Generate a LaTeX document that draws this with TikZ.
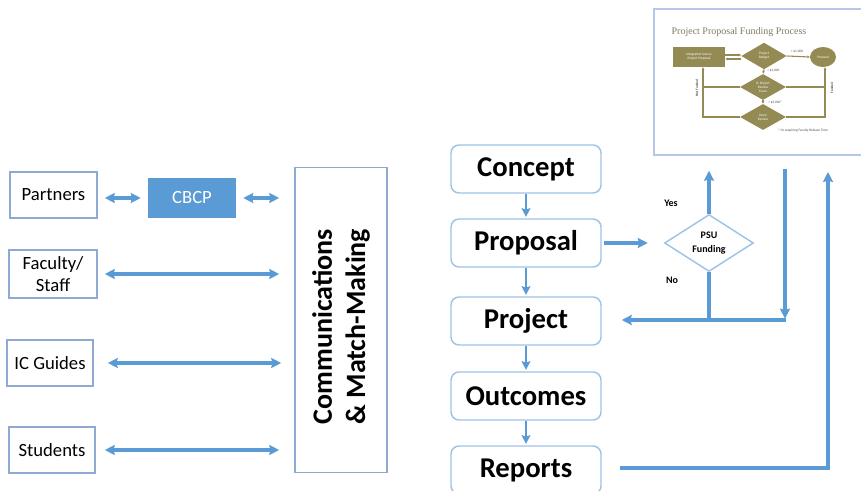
\documentclass[tikz,border=0pt]{standalone}
\usepackage{fontspec}
\setmainfont{Carlito}
\newfontfamily\titleserif{Liberation Serif}
\usetikzlibrary{arrows.meta,shapes.geometric,calc}
\definecolor{linkblue}{RGB}{91,155,213}
\definecolor{boxedge}{RGB}{143,170,210}
\definecolor{flowedge}{RGB}{157,195,230}
\definecolor{insetedge}{RGB}{180,199,231}
\definecolor{olivebox}{RGB}{148,138,84}
\definecolor{olivetitle}{RGB}{130,124,96}
\tikzset{
  party/.style={draw=boxedge, line width=1.2pt, align=center, inner sep=0pt,
    font=\fontsize{14}{16.5}\selectfont},
  flowbox/.style={draw=flowedge, line width=1.1pt, rounded corners=6pt,
    minimum width=112.5pt, minimum height=36pt, inner sep=0pt,
    font=\fontsize{21.5}{24}\selectfont\bfseries},
  link/.style={draw=linkblue, line width=2.3pt},
  both/.style={link, {Stealth[length=7.5pt,width=7.5pt,inset=1pt]}-{Stealth[length=7.5pt,width=7.5pt,inset=1pt]}},
  onto/.style={link, -{Stealth[length=7.5pt,width=7.5pt,inset=1pt]}},
  downlink/.style={draw=linkblue, line width=1.9pt, -{Stealth[length=6.5pt,width=6.5pt,inset=1pt]}},
  tag/.style={font=\fontsize{7.5}{9}\selectfont\bfseries, inner sep=0pt},
  % miniature funding chart
  minibox/.style={fill=olivebox, text=white, align=center, inner sep=0pt,
    font=\fontsize{2.6}{3}\selectfont},
  minidia/.style={minibox, diamond, aspect=1.7},
  miniline/.style={draw=olivebox, line width=0.8pt},
  miniarrow/.style={miniline, -{Stealth[length=2pt,width=2pt]}},
  mininote/.style={font=\fontsize{2.6}{3}\selectfont, inner sep=0pt, text=black!70},
}
\begin{document}
\begin{tikzpicture}[x=0.75pt,y=-0.75pt]
\useasboundingbox (0,0) rectangle (861,491);

% ---------- partners and match-making ----------
\node[party, minimum width=65.25pt, minimum height=34.5pt] (partners) at (53.5,195) {Partners};
\node[party, minimum width=66pt, minimum height=36pt] (faculty) at (53,274) {Faculty/\\Staff};
\node[party, minimum width=64.5pt, minimum height=34.5pt] (guides) at (50,363) {IC Guides};
\node[party, minimum width=64.5pt, minimum height=34.5pt] (students) at (52,450) {Students};
\node[fill=linkblue, text=white, minimum width=66pt, minimum height=30pt, inner sep=0pt,
  font=\fontsize{14}{16.5}\selectfont] (cbcp) at (192,198) {CBCP};
\node[draw=boxedge, line width=1.2pt, minimum width=69pt, minimum height=228.75pt] (comm) at (341,320) {};
\node[rotate=90, align=center, font=\fontsize{21}{25}\selectfont\bfseries] (commtext) at ([yshift=-5pt]comm.center) {Communications\\\& Match-Making};

\draw[both, shorten <=5.25pt, shorten >=5.25pt] (partners.east |- cbcp.west) -- (cbcp.west);
\draw[both, shorten <=5.25pt, shorten >=11.25pt] (cbcp.east) -- (cbcp.east -| comm.west);
\draw[both, shorten <=5.25pt, shorten >=11.25pt] (faculty.east) -- (faculty.east -| comm.west);
\draw[both, shorten <=10.5pt, shorten >=9.75pt] (guides.east) -- (guides.east -| comm.west);
\draw[both, shorten <=6.75pt, shorten >=11.25pt] (students.east) -- (students.east -| comm.west);

% ---------- project flow ----------
\node[flowbox] (concept) at (526,169) {Concept};
\node[flowbox] (proposal) at (526,243) {Proposal};
\node[flowbox] (project) at (526,321) {Project};
\node[flowbox] (outcomes) at (526,396) {Outcomes};
\node[flowbox] (reports) at (526,470) {Reports};

\draw[downlink, shorten >=1pt] (concept) -- (proposal);
\draw[downlink, shorten >=1pt] (proposal) -- (project);
\draw[downlink, shorten >=1pt] (project) -- (outcomes);
\draw[downlink, shorten >=1pt] (outcomes) -- (reports);

\node[diamond, draw=flowedge, line width=1.1pt, minimum width=66.75pt, minimum height=42.75pt,
  inner sep=0pt, align=center, font=\fontsize{7.5}{10}\selectfont\bfseries] (psu) at (709,243) {PSU\\Funding};
\node[tag] (yes) at (671,203) {Yes};
\node[tag] (no) at (672,280) {No};

% ---------- funding chart panel ----------
\node[draw=insetedge, line width=1.3pt, fill=white, minimum width=162.75pt, minimum height=109.5pt,
  inner sep=0pt, anchor=north west] (inset) at (653,8) {};

\node[font=\titleserif\fontsize{7.5}{8}\selectfont, text=olivetitle, inner sep=0pt] (title) at (739,32) {Project Proposal Funding Process};
\node[minibox, minimum width=39pt, minimum height=15pt] (icp) at (699,57) {Integrated Course\\Project Proposal};
\node[minidia, minimum width=34pt, minimum height=20pt] (budget) at (764,56) {Project\\Budget};
\node[minibox, ellipse, minimum width=19.5pt, minimum height=15pt] (proceed) at (823,57) {Proceed};
\node[minidia, minimum width=34.5pt, minimum height=19.5pt] (review) at (763,87) {IC Project\\Review\\Team};
\node[minidia, minimum width=34.5pt, minimum height=19.5pt] (dean) at (763,117) {Dean\\Review};

\draw[miniarrow] ([yshift=1.5pt]icp.east) -- ([yshift=1.5pt]icp.east -| budget.west);
\draw[miniarrow] ([yshift=-1.5pt]icp.east -| budget.west) -- ([yshift=-1.5pt]icp.east);
\draw[miniarrow] (budget.east) -- (proceed.west);
\draw[miniarrow] (budget.south) -- (review.north);
\draw[miniarrow] (review.south) -- (dean.north);
\coordinate (leftrail) at (703,117);
\coordinate (rightrail) at (825,117);
\draw[miniline] (review.west) -- (review.west -| leftrail);
\draw[miniarrow] (dean.west) -| (icp.south -| leftrail);
\draw[miniline] (review.east) -- (review.east -| rightrail);
\draw[miniarrow] (dean.east) -| (proceed.south -| rightrail);

\node[mininote, anchor=south] (lt1k) at (797,53) {< \$1,000};
\node[mininote, anchor=west] (gt1k) at (767,71) {> \$1,000};
\node[mininote, anchor=west] (gt5k) at (768,102) {> \$5,000*};
\node[mininote, rotate=90, font=\fontsize{2.6}{3}\selectfont\bfseries] (notfunded) at (697,88) {Not Funded};
\node[mininote, rotate=90, font=\fontsize{2.6}{3}\selectfont\bfseries] (funded) at (832,88) {Funded};
\node[mininote] (footnote) at (803,131) {* Or requiring Faculty Release Time};

% ---------- funding loop connectors ----------
\draw[onto, shorten <=1.5pt, shorten >=12pt] (proposal.east) -- (psu.west);
\draw[onto, shorten >=11.25pt] (psu.north) -- (psu.north |- inset.south);
\coordinate (dropTop) at (785,169);
\coordinate (dropFoot) at (785,320);
\coordinate (riseFoot) at (828,468);
\coordinate (riseTop) at (828,172);
\draw[link] (psu.south) -- (psu.south |- dropFoot);
\draw[onto, shorten >=1pt] (dropTop) -- (dropFoot);
\draw[onto, shorten >=15pt] ([xshift=1pt]dropFoot) -- (dropFoot -| project.east);
\draw[onto, shorten <=14pt] (reports.east |- riseFoot) -- (riseFoot) -- (riseTop);
\end{tikzpicture}
\end{document}
